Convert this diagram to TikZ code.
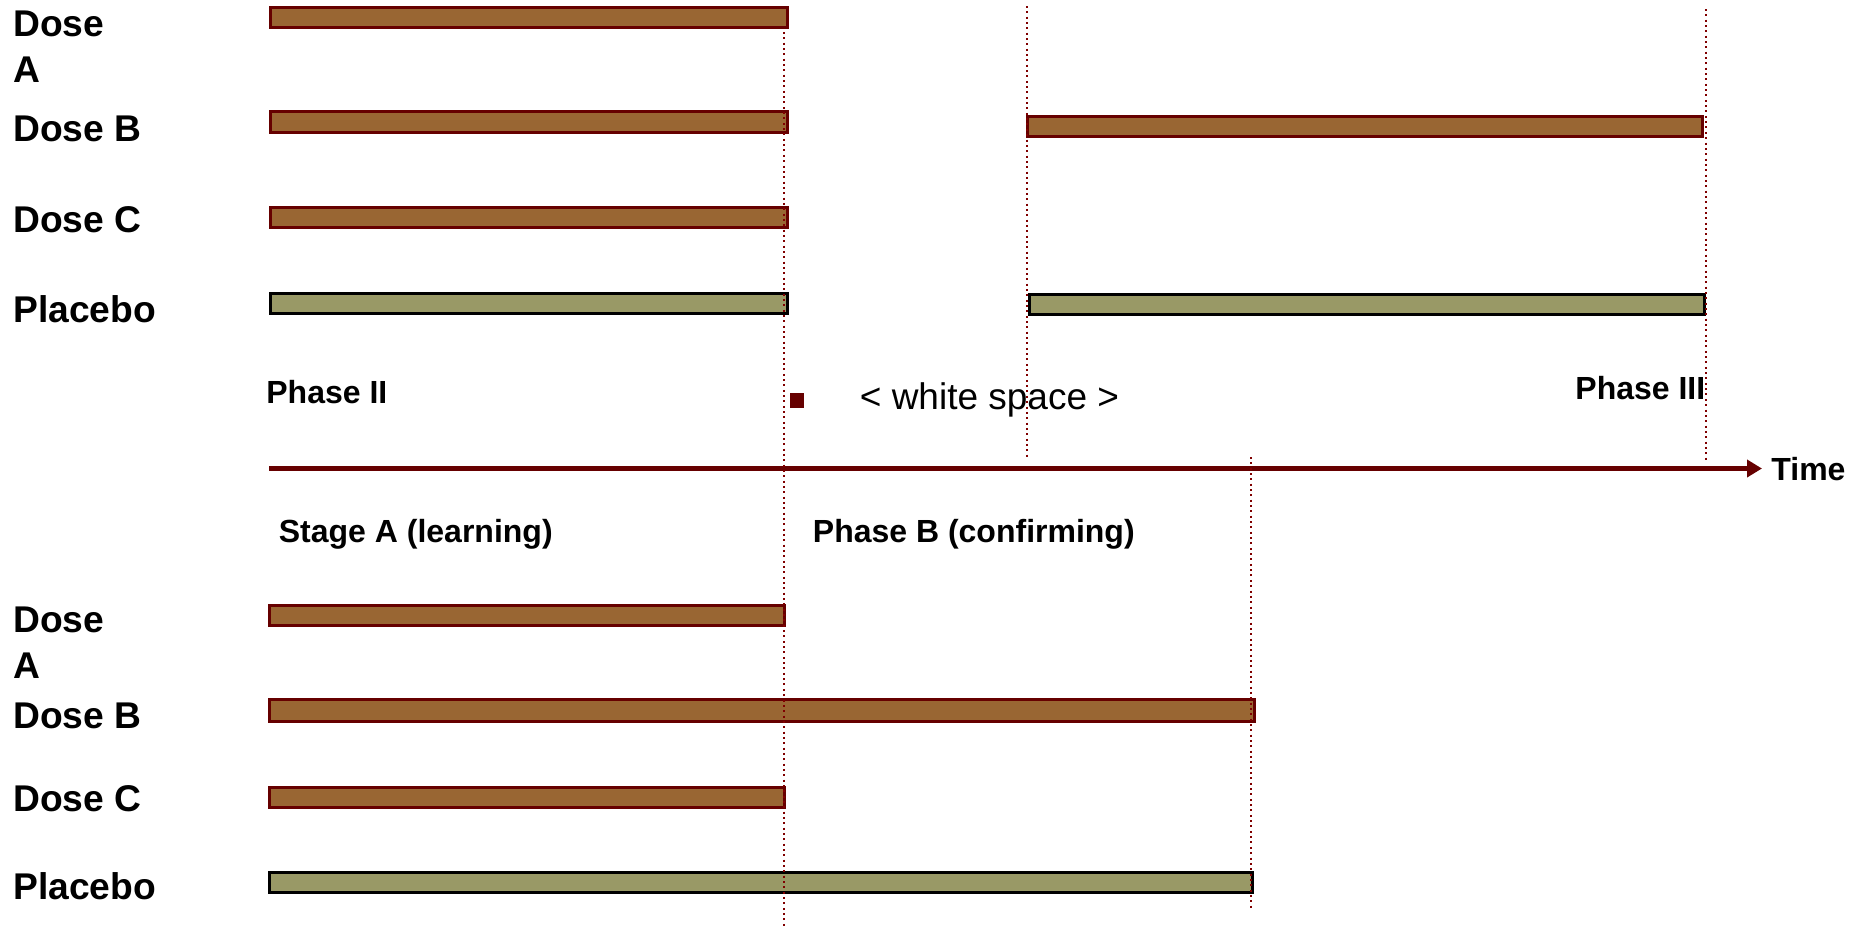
\documentclass[tikz,border=0pt]{standalone}
\usepackage{fontspec}
\setmainfont{Liberation Sans}
\usetikzlibrary{arrows.meta}
\definecolor{barbrown}{HTML}{996633}
\definecolor{barrim}{HTML}{660000}
\definecolor{placebofill}{HTML}{999966}
\definecolor{guidered}{HTML}{800000}

\begin{document}
\begin{tikzpicture}[x=0.5pt,y=-0.5pt,
  dosebar/.style={rectangle, draw=barrim, fill=barbrown, line width=1.35pt,
    inner sep=0pt, outer sep=0pt, minimum height=10.25pt, anchor=north west},
  placebobar/.style={dosebar, draw=black, fill=placebofill},
  armlabel/.style={font=\fontsize{18.6}{23}\selectfont\bfseries, anchor=base west, inner sep=0pt},
  phaselabel/.style={font=\fontsize{16}{19}\selectfont\bfseries, anchor=base west, inner sep=0pt},
  plainlabel/.style={font=\fontsize{18.5}{22}\selectfont, anchor=base west, inner sep=0pt},
  guide/.style={draw=guidered, line width=1pt, dash pattern=on 1pt off 1.67pt},
  timeaxis/.style={draw=barrim, line width=2.5pt, -{Triangle[length=7.5pt,width=8.5pt]}},
]
\useasboundingbox (0,0) rectangle (1849,927);

% ---------- upper design: separate Phase II and Phase III ----------
\node[armlabel] (uA) at (13,36.7) {\vtop{\hbox{Dose}\hbox{A}}};
\node[armlabel] (uB) at (13,141.7) {Dose B};
\node[armlabel] (uC) at (13,232) {Dose C};
\node[armlabel] (uP) at (13,322) {Placebo};

\node[dosebar, minimum width=258.75pt] (ubarA) at (270.25,7.25) {};
\node[dosebar, minimum width=258.75pt] (ubarB) at (270.25,111.75) {};
\node[dosebar, minimum width=258.75pt] (ubarC) at (270.25,207.25) {};
\node[placebobar, minimum width=258.75pt] (ubarP) at (270.25,293.25) {};

\node[dosebar, minimum width=337.75pt] (p3barB) at (1027.25,116.25) {};
\node[placebobar, minimum width=337.75pt] (p3barP) at (1029.25,294.25) {};

\node[phaselabel] (ph2) at (266,403) {Phase II};
\node[phaselabel] (ph3) at (1575,399.5) {Phase III};
\node[fill=barrim, minimum width=7pt, minimum height=7.5pt, inner sep=0pt] (bullet) at (797,400) {};
\node[plainlabel] (gap) at (859.5,409.3) {< white space >};

% ---------- time axis ----------
\coordinate (axstart) at (269,468.5);
\coordinate (axend) at (1762,468.5);
\node[phaselabel] (time) at (1771,480.7) {Time};
\draw[timeaxis] (axstart) -- (axend);

% ---------- lower design: seamless two-stage study ----------
\node[phaselabel] (stA) at (278.5,542) {Stage A (learning)};
\node[phaselabel] (stB) at (812.5,542) {Phase B (confirming)};

\node[armlabel] (lA) at (13,632) {\vtop{\hbox{Dose}\hbox{A}}};
\node[armlabel] (lB) at (13,728) {Dose B};
\node[armlabel] (lC) at (13,811) {Dose C};
\node[armlabel] (lP) at (13,899) {Placebo};

\node[dosebar, minimum width=257.75pt] (lbarA) at (269.25,605.25) {};
\node[dosebar, minimum width=492.75pt, minimum height=11.25pt] (lbarB) at (269.25,699.25) {};
\node[dosebar, minimum width=257.75pt] (lbarC) at (269.25,787.25) {};
\node[placebobar, minimum width=491.75pt] (lbarP) at (269.25,872.25) {};

% ---------- dotted time markers ----------
\coordinate (g1top) at (784,32);
\coordinate (g1bot) at (784,927);
\coordinate (g2top) at (1027,6);
\coordinate (g2bot) at (1027,457);
\coordinate (g3top) at (1706,9);
\coordinate (g3bot) at (1706,460);
\coordinate (g4top) at (1251,457);
\coordinate (g4bot) at (1251,908);
\draw[guide] (g1top) -- (g1bot);
\draw[guide] (g2top) -- (g2bot);
\draw[guide] (g3top) -- (g3bot);
\draw[guide] (g4top) -- (g4bot);
\end{tikzpicture}
\end{document}
